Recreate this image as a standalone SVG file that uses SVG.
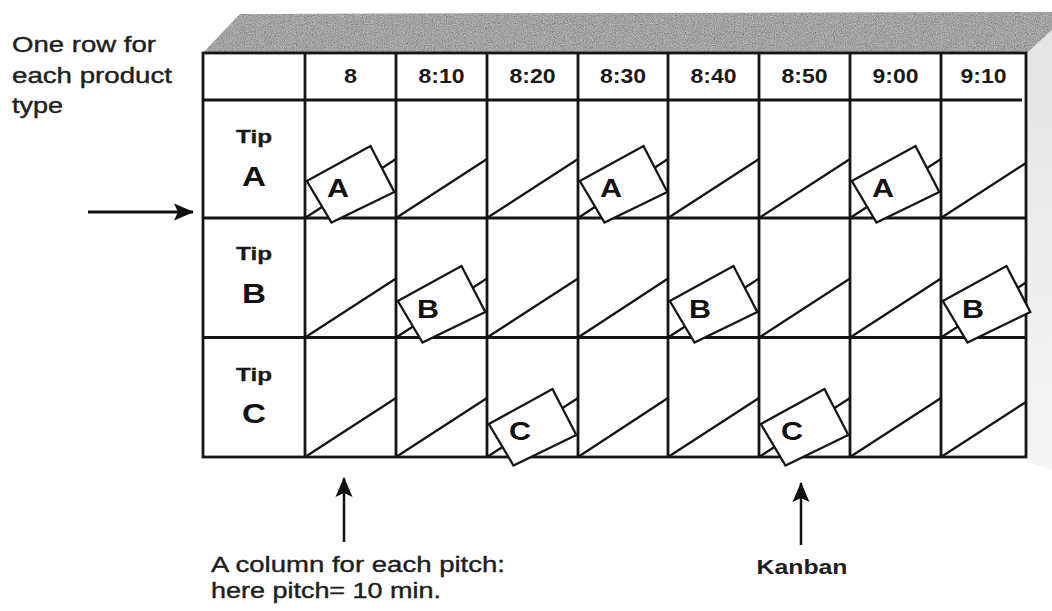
<svg xmlns="http://www.w3.org/2000/svg" xmlns:xlink="http://www.w3.org/1999/xlink" width="1052" height="611" viewBox="0 0 1052 611">
<style>
.grid{stroke:#151515;stroke-width:2.8;fill:none}
.diag{stroke:#151515;stroke-width:2.3;fill:none}
.hdr{font-family:"Liberation Sans",Arial,sans-serif;font-weight:bold;font-size:20px;fill:#1a1a1a;text-anchor:middle}
.tip{font-family:"Liberation Sans",Arial,sans-serif;font-weight:bold;font-size:19px;fill:#1a1a1a;text-anchor:middle;stroke:#1a1a1a;stroke-width:0.3}
.big{font-family:"Liberation Sans",Arial,sans-serif;font-weight:bold;font-size:27px;fill:#111;text-anchor:middle}
.cl{font-family:"Liberation Sans",Arial,sans-serif;font-weight:bold;font-size:25px;fill:#111;text-anchor:middle}
.note{font-family:"Liberation Sans",Arial,sans-serif;font-size:22px;fill:#1e1e1e;stroke:#1e1e1e;stroke-width:0.4}
.kb{font-family:"Liberation Sans",Arial,sans-serif;font-weight:bold;font-size:21px;fill:#1e1e1e;text-anchor:middle}
.arr{stroke:#111;stroke-width:3;fill:none}
</style>
<defs>
<polygon id="card" points="1.8,-37 65.5,-72 89.3,-26 26.5,4.5" fill="#fff" stroke="#151515" stroke-width="2.3"/>
<marker id="ah" markerUnits="userSpaceOnUse" markerWidth="22" markerHeight="18" refX="19" refY="8.5" orient="auto" viewBox="0 0 22 17">
<path d="M0,0 L20,8.5 L0,17 L4,8.5 Z" fill="#111"/>
</marker>
<filter id="grain" filterUnits="userSpaceOnUse" x="200" y="8" width="852" height="50">
<feTurbulence type="fractalNoise" baseFrequency="0.9" numOctaves="2" seed="7" result="t"/>
<feColorMatrix in="t" type="matrix" values="0.6 0.6 0.6 0 -0.4  0.6 0.6 0.6 0 -0.4  0.6 0.6 0.6 0 -0.4  0 0 0 0 0.45" result="g"/>
<feComposite in="g" in2="SourceGraphic" operator="in" result="c"/>
<feMerge><feMergeNode in="SourceGraphic"/><feMergeNode in="c"/></feMerge>
</filter>
<linearGradient id="side" x1="0" y1="0" x2="0" y2="1">
<stop offset="0" stop-color="#e4e4e4"/>
<stop offset="1" stop-color="#f6f6f6"/>
</linearGradient>
</defs>
<rect width="1052" height="611" fill="#fff"/>

<g id="box3d">
<polygon points="203,53 240,14 1052,12 1052,30 1027,53" fill="#8a8a8a" filter="url(#grain)"/>
<polygon points="1027,53 1052,30 1052,470 1027,462" fill="url(#side)"/>
</g>

<g id="table">
<rect x="203" y="53" width="823" height="404" fill="#fff"/>
<g id="diagonals" class="diag">
<path d="M305,218 L396,159 M396,218 L487,159 M487,218 L578,159 M578,218 L668,159 M668,218 L759,159 M759,218 L850,159 M850,218 L941,159 M941,218 L1026,163"/>
<path d="M305,337.5 L396,278.5 M396,337.5 L487,278.5 M487,337.5 L578,278.5 M578,337.5 L668,278.5 M668,337.5 L759,278.5 M759,337.5 L850,278.5 M850,337.5 L941,278.5 M941,337.5 L1026,282.5"/>
<path d="M305,457 L396,398 M396,457 L487,398 M487,457 L578,398 M578,457 L668,398 M668,457 L759,398 M759,457 L850,398 M850,457 L941,398 M941,457 L1026,402"/>
</g>
<g id="gridlines" class="grid">
<rect x="203" y="53" width="823" height="404"/>
<path d="M203,100 L1022,100 M203,218 L1026,218 M203,337.5 L1026,337.5"/>
<path d="M305,53 V457 M396,53 V457 M487,53 V457 M578,53 V457 M668,53 V457 M759,53 V457 M850,53 V457 M941,53 V457"/>
</g>
</g>

<g id="header">
<text class="hdr" x="350.5" y="83" textLength="13" lengthAdjust="spacingAndGlyphs">8</text>
<text class="hdr" x="441.5" y="83" textLength="46" lengthAdjust="spacingAndGlyphs">8:10</text>
<text class="hdr" x="532.5" y="83" textLength="46" lengthAdjust="spacingAndGlyphs">8:20</text>
<text class="hdr" x="623" y="83" textLength="46" lengthAdjust="spacingAndGlyphs">8:30</text>
<text class="hdr" x="713.5" y="83" textLength="46" lengthAdjust="spacingAndGlyphs">8:40</text>
<text class="hdr" x="804.5" y="83" textLength="46" lengthAdjust="spacingAndGlyphs">8:50</text>
<text class="hdr" x="895.5" y="83" textLength="46" lengthAdjust="spacingAndGlyphs">9:00</text>
<text class="hdr" x="983.5" y="83" textLength="46" lengthAdjust="spacingAndGlyphs">9:10</text>
</g>

<g id="row-a">
<text class="tip" x="254" y="143" textLength="36" lengthAdjust="spacingAndGlyphs">Tip</text>
<text class="big" x="254" y="186" textLength="24" lengthAdjust="spacingAndGlyphs">A</text>
</g>
<g id="row-b">
<text class="tip" x="254" y="260" textLength="36" lengthAdjust="spacingAndGlyphs">Tip</text>
<text class="big" x="254" y="303" textLength="24" lengthAdjust="spacingAndGlyphs">B</text>
</g>
<g id="row-c">
<text class="tip" x="254" y="381" textLength="36" lengthAdjust="spacingAndGlyphs">Tip</text>
<text class="big" x="254" y="423" textLength="24" lengthAdjust="spacingAndGlyphs">C</text>
</g>

<g id="kanban-a1"><use xlink:href="#card" x="305" y="218"/><text class="cl" x="338" y="197" textLength="22" lengthAdjust="spacingAndGlyphs">A</text></g>
<g id="kanban-a2"><use xlink:href="#card" x="578" y="218"/><text class="cl" x="611" y="197" textLength="22" lengthAdjust="spacingAndGlyphs">A</text></g>
<g id="kanban-a3"><use xlink:href="#card" x="850" y="218"/><text class="cl" x="883" y="197" textLength="22" lengthAdjust="spacingAndGlyphs">A</text></g>
<g id="kanban-b1"><use xlink:href="#card" x="396" y="338"/><text class="cl" x="428" y="318" textLength="22" lengthAdjust="spacingAndGlyphs">B</text></g>
<g id="kanban-b2"><use xlink:href="#card" x="668" y="338"/><text class="cl" x="700" y="318" textLength="22" lengthAdjust="spacingAndGlyphs">B</text></g>
<g id="kanban-b3"><use xlink:href="#card" x="941" y="338"/><text class="cl" x="973" y="318" textLength="22" lengthAdjust="spacingAndGlyphs">B</text></g>
<g id="kanban-c1"><use xlink:href="#card" x="487" y="461"/><text class="cl" x="520" y="440" textLength="22" lengthAdjust="spacingAndGlyphs">C</text></g>
<g id="kanban-c2"><use xlink:href="#card" x="759" y="461"/><text class="cl" x="792" y="440" textLength="22" lengthAdjust="spacingAndGlyphs">C</text></g>

<g id="note-rows">
<text class="note" x="12" y="52" textLength="144" lengthAdjust="spacingAndGlyphs">One row for</text>
<text class="note" x="12" y="83" textLength="160" lengthAdjust="spacingAndGlyphs">each product</text>
<text class="note" x="12" y="113" textLength="51" lengthAdjust="spacingAndGlyphs">type</text>
</g>
<g id="note-columns">
<text class="note" x="211" y="572" textLength="294" lengthAdjust="spacingAndGlyphs">A column for each pitch:</text>
<text class="note" x="211" y="598" textLength="230" lengthAdjust="spacingAndGlyphs">here pitch= 10 min.</text>
</g>
<g id="note-kanban">
<text class="kb" x="802" y="574" textLength="91" lengthAdjust="spacingAndGlyphs">Kanban</text>
</g>

<g id="connectors" class="arr">
<line x1="88" y1="212" x2="193" y2="212" marker-end="url(#ah)"/>
<line x1="344" y1="542" x2="344" y2="478" stroke-width="2.5" marker-end="url(#ah)"/>
<line x1="801" y1="545" x2="801" y2="483" stroke-width="2.5" marker-end="url(#ah)"/>
</g>
</svg>
